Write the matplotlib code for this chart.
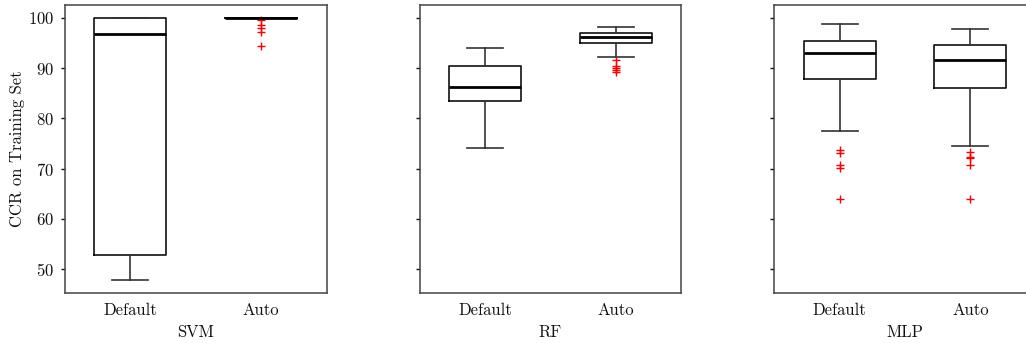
import matplotlib
matplotlib.use("Agg")
import matplotlib.pyplot as plt

plt.rcParams['font.family'] = ['cmr10', 'DejaVu Serif']
plt.rcParams['axes.formatter.use_mathtext'] = True

models = ["SVM", "RF", "MLP"]
configs = ["Default", "Auto"]

# five-number summaries per model: [Default, Auto]
whislo = {"SVM": [47.8, 100.0], "RF": [74.1, 92.2], "MLP": [77.4, 74.5]}
q1     = {"SVM": [52.8, 100.0], "RF": [83.4, 95.0], "MLP": [87.8, 86.0]}
med    = {"SVM": [96.7, 100.0], "RF": [86.3, 96.2], "MLP": [92.9, 91.6]}
q3     = {"SVM": [100.0, 100.0], "RF": [90.4, 97.0], "MLP": [95.3, 94.5]}
whishi = {"SVM": [100.0, 100.0], "RF": [93.9, 98.1], "MLP": [98.8, 97.8]}
fliers = {
    "SVM": [[], [99.6, 98.6, 97.9, 97.2, 94.3]],
    "RF":  [[], [91.6, 90.4, 90.0, 89.6, 89.2]],
    "MLP": [[73.8, 73.2, 70.8, 70.2, 63.9], [73.3, 72.3, 72.1, 70.8, 63.9]],
}

ylabel = "CCR on Training Set"

W, H = 1026, 343
fig = plt.figure(figsize=(W / 100, H / 100), dpi=100)
lefts = [65, 419.5, 774.3]
axw, top, bot = 261.5, 4.7, 293.3
FS = 12

axes = []
for i, m in enumerate(models):
    rect = [lefts[i] / W, (H - bot) / H, axw / W, (bot - top) / H]
    if i == 0:
        ax = fig.add_axes(rect)
    else:
        ax = fig.add_axes(rect, sharey=axes[0])
    axes.append(ax)
    stats = []
    for j, c in enumerate(configs):
        stats.append(dict(label=c, whislo=whislo[m][j], q1=q1[m][j], med=med[m][j],
                          q3=q3[m][j], whishi=whishi[m][j], fliers=fliers[m][j]))
    ax.bxp(stats, widths=0.55, showfliers=True,
           boxprops=dict(color='#111111', linewidth=1.2),
           whiskerprops=dict(color='#333333', linewidth=1.2),
           capprops=dict(color='#333333', linewidth=1.2),
           medianprops=dict(color='black', linewidth=2.0),
           flierprops=dict(marker='+', markeredgecolor='red', markersize=6,
                           markeredgewidth=1.0, linestyle='none'))
    ax.set_xlabel(m, fontsize=FS, labelpad=5, color='#111111')
    ax.tick_params(axis='x', length=0, labelsize=FS, pad=6.5, colors='#111111')
    ax.tick_params(axis='y', length=3, width=1, labelsize=FS, pad=5, colors='#111111')
    for s in ax.spines.values():
        s.set_color('#444444')
        s.set_linewidth(1.1)
    if i > 0:
        plt.setp(ax.get_yticklabels(), visible=False)

axes[0].set_ylabel(ylabel, fontsize=FS, color='#111111', labelpad=1.8)
axes[0].set_yticks([50, 60, 70, 80, 90, 100])
axes[0].set_ylim(45.2, 102.6)

fig.savefig("out.png", dpi=100)
